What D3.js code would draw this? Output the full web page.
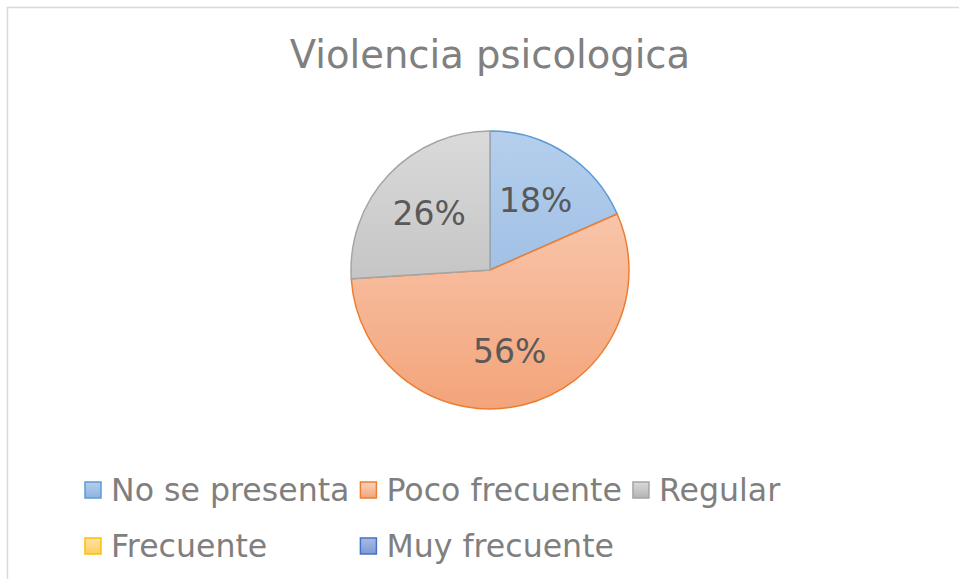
<!DOCTYPE html>
<html>
<head>
<meta charset="utf-8">
<script src="https://cdn.jsdelivr.net/npm/d3@7"></script>
<style>
  body { margin: 0; background: #fff; }
  svg text { font-family: "DejaVu Sans", Verdana, sans-serif; }
</style>
</head>
<body>
<div id="root"></div>
<script>
const title = "Violencia psicologica"
const categories = ["No se presenta", "Poco frecuente", "Regular", "Frecuente", "Muy frecuente"]
const values = [0.184, 0.556, 0.26, 0, 0]
const strokeColors = ["#5b9bd5", "#ed7d31", "#a5a5a5", "#ffc000", "#4472c4"]
const lightColors = ["#b5cfec", "#fad3be", "#dadada", "#ffe3a6", "#aabbe2"]
const darkColors = ["#8eb2e0", "#f3a47a", "#b3b3b3", "#ffcd60", "#7e9ad5"]

const w = 959
const h = 579
const cx = 490
const cy = 270
const outerRadius = 139

const svg = d3.select("#root")
    .append("svg")
    .attr("width", w)
    .attr("height", h)

// chart border, runs off the right and bottom edge
svg.append("rect")
    .attr("x", 7.5)
    .attr("y", 7.5)
    .attr("width", w + 20)
    .attr("height", h + 20)
    .attr("fill", "#fff")
    .attr("stroke", "#d9d9d9")
    .attr("stroke-width", 1.5)

const defs = svg.append("defs")
categories.forEach((c, i) => {
    // pie gradient, in pie coordinates
    const g = defs.append("linearGradient")
        .attr("id", "pg" + i)
        .attr("gradientUnits", "userSpaceOnUse")
        .attr("x1", 0).attr("x2", 0)
        .attr("y1", -outerRadius).attr("y2", outerRadius)
    g.append("stop").attr("offset", "0%").attr("stop-color", lightColors[i])
    g.append("stop").attr("offset", "100%").attr("stop-color", darkColors[i])
    const lg = defs.append("linearGradient")
        .attr("id", "lg" + i)
        .attr("x1", 0).attr("x2", 0).attr("y1", 0).attr("y2", 1)
    lg.append("stop").attr("offset", "0%").attr("stop-color", lightColors[i])
    lg.append("stop").attr("offset", "100%").attr("stop-color", darkColors[i])
})

svg.append("text")
    .attr("x", cx)
    .attr("y", 68)
    .attr("text-anchor", "middle")
    .attr("font-size", 38.5)
    .attr("fill", "#808080")
    .text(title)

const pie = d3.pie().sort(null).value(d => d)
const arcs = pie(values)

const arc = d3.arc()
    .innerRadius(0)
    .outerRadius(outerRadius)

const labelArc = d3.arc()
    .innerRadius(outerRadius * 0.6)
    .outerRadius(outerRadius * 0.6)

const pieG = svg.append("g")
    .attr("transform", `translate(${cx}, ${cy})`)

pieG.selectAll("path")
    .data(arcs.filter(d => d.value > 0))
    .enter()
    .append("path")
    .attr("d", arc)
    .attr("fill", d => `url(#pg${d.index})`)
    .attr("stroke", d => strokeColors[d.index])
    .attr("stroke-width", 1.5)
    .attr("stroke-linejoin", "round")

const fmt = d3.format(".0%")
pieG.selectAll("text")
    .data(arcs.filter(d => d.value > 0))
    .enter()
    .append("text")
    .attr("transform", d => `translate(${labelArc.centroid(d)})`)
    .attr("text-anchor", "middle")
    .attr("dy", "0.36em")
    .attr("font-size", 33)
    .attr("fill", "#595959")
    .text(d => fmt(d.value))

// legend, 3 columns, wraps to a second row
const legendX = 84
const rowY = [490, 546]
const nCols = 3
const markerSize = 18
const textGap = 27
const colGap = 10
const legendFont = 31.6

const legend = svg.append("g")
const items = legend.selectAll("g.item")
    .data(categories)
    .enter()
    .append("g")
    .attr("class", "item")

items.append("rect")
    .attr("width", markerSize - 2)
    .attr("height", markerSize - 2)
    .attr("y", -(markerSize - 2) / 2)
    .attr("x", 1)
    .attr("fill", (d, i) => `url(#lg${i})`)
    .attr("stroke", (d, i) => strokeColors[i])
    .attr("stroke-width", 1.5)

items.append("text")
    .attr("x", textGap)
    .attr("dy", "0.36em")
    .attr("font-size", legendFont)
    .attr("fill", "#7f7f7f")
    .text(d => d)

const widths = []
items.select("text").each(function(d, i) { widths[i] = this.getComputedTextLength() })
const colX = [legendX]
for (let c = 1; c < nCols; c++) {
    let m = 0
    categories.forEach((d, i) => { if (i % nCols === c - 1) m = Math.max(m, widths[i]) })
    colX[c] = colX[c - 1] + textGap + m + colGap
}
items.attr("transform", (d, i) => `translate(${colX[i % nCols]}, ${rowY[Math.floor(i / nCols)]})`)
</script>
</body>
</html>
